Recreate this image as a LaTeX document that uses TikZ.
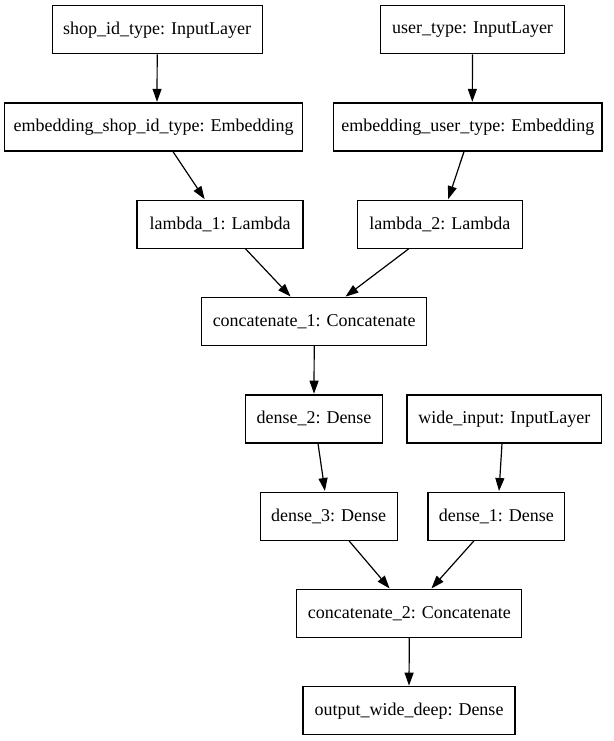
\documentclass[tikz,border=0pt]{standalone}
\usepackage{fontspec}
\setmainfont{Liberation Serif}
\usetikzlibrary{arrows.meta}
\begin{document}
\begin{tikzpicture}[x=1pt,y=-1pt,
  layer/.style={draw=black, line width=1.2pt, rectangle, minimum height=48pt, inner sep=0pt,
    font=\fontsize{18}{20}\selectfont, anchor=center},
  arr/.style={line width=1.2pt, -{Triangle[length=13pt,width=9pt]}, shorten >=0.6pt}]
\useasboundingbox (0,0) rectangle (613,741);
\fill[white] (0,0) rectangle (613,741);
\node[layer, minimum width=209.8pt] (shop) at (157.2,29.7) {shop\_id\_type: InputLayer};
\node[layer, minimum width=184.2pt] (user) at (472.5,29.7) {user\_type: InputLayer};
\node[layer, minimum width=297.9pt] (embshop) at (153.7,127) {embedding\_shop\_id\_type: Embedding};
\node[layer, minimum width=268.4pt] (embuser) at (467.8,127) {embedding\_user\_type: Embedding};
\node[layer, minimum width=165.9pt] (lam1) at (220,224.3) {lambda\_1: Lambda};
\node[layer, minimum width=165.4pt] (lam2) at (439.9,224.3) {lambda\_2: Lambda};
\node[layer, minimum width=225.1pt] (cat1) at (314.2,321.6) {concatenate\_1: Concatenate};
\node[layer, minimum width=136.7pt] (d2) at (314,418.9) {dense\_2: Dense};
\node[layer, minimum width=194.6pt] (wide) at (504.3,418.9) {wide\_input: InputLayer};
\node[layer, minimum width=137.1pt] (d3) at (328.7,516.2) {dense\_3: Dense};
\node[layer, minimum width=136.7pt] (d1) at (496.3,516.2) {dense\_1: Dense};
\node[layer, minimum width=225.1pt] (cat2) at (409.3,613.5) {concatenate\_2: Concatenate};
\node[layer, minimum width=212.1pt] (out) at (409,710.8) {output\_wide\_deep: Dense};
\draw[arr] (shop.south) -- ([xshift=3.3pt]embshop.north);
\draw[arr] (user.south) -- ([xshift=4.5pt]embuser.north);
\draw[arr] ([xshift=19.3pt]embshop.south) -- ([xshift=-15pt]lam1.north);
\draw[arr] ([xshift=-3.8pt]embuser.south) -- ([xshift=8.1pt]lam2.north);
\draw[arr] ([xshift=25.6pt]lam1.south) -- ([xshift=-23.2pt]cat1.north);
\draw[arr] ([xshift=-31.3pt]lam2.south) -- ([xshift=30.8pt]cat1.north);
\draw[arr] (cat1.south) -- (d2.north);
\draw[arr] ([xshift=4pt]d2.south) -- ([xshift=-3.7pt]d3.north);
\draw[arr] ([xshift=-2.3pt]wide.south) -- ([xshift=2.7pt]d1.north);
\draw[arr] ([xshift=20.3pt]d3.south) -- ([xshift=-19.3pt]cat2.north);
\draw[arr] ([xshift=-22.3pt]d1.south) -- ([xshift=21.7pt]cat2.north);
\draw[arr] (cat2.south) -- (out.north);
\end{tikzpicture}
\end{document}
